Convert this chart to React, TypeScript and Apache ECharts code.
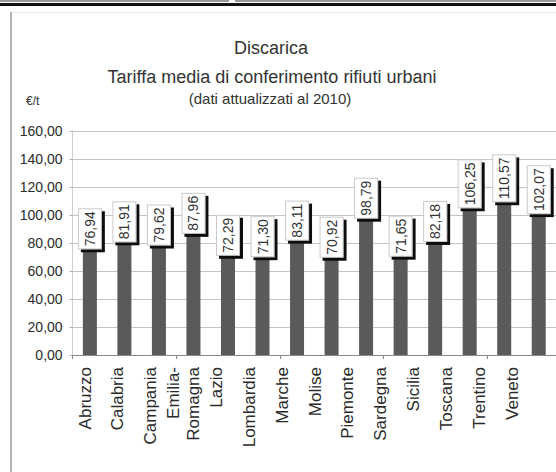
import React, { useEffect, useRef } from "react";
import * as echarts from "echarts";

const categories = [
  "Abruzzo", "Calabria", "Campania", "Emilia-\nRomagna", "Lazio", "Lombardia", "Marche",
  "Molise", "Piemonte", "Sardegna", "Sicilia", "Toscana", "Trentino", "Veneto",
];
const values = [76.94, 81.91, 79.62, 87.96, 72.29, 71.3, 83.11, 70.92, 98.79, 71.65, 82.18, 106.25, 110.57, 102.07];
const titleLines = ["Discarica", "Tariffa media di conferimento rifiuti urbani", "(dati attualizzati al 2010)"];
const unitLabel = "€/t";

const fmt = (v: number) => v.toFixed(2).replace(".", ",");
const FONT = "'Liberation Sans', Arial, sans-serif";

export default function App() {
  const ref = useRef<HTMLDivElement>(null);
  useEffect(() => {
    if (!ref.current) return;
    const chart = echarts.init(ref.current, undefined, { renderer: "svg" });
    chart.setOption({
      animation: false,
      backgroundColor: "#ffffff",
      textStyle: { fontFamily: FONT },
      grid: [
        { left: 72.6, top: 131, width: 488, height: 224 },
        { left: 68.6, top: 131, width: 460, height: 224 },
      ],
      xAxis: [
        {
          type: "category",
          data: categories,
          gridIndex: 0,
          axisLine: { show: true, lineStyle: { color: "#8a8a8a", width: 1 } },
          axisTick: { show: true, length: 4, lineStyle: { color: "#8a8a8a" } },
          axisLabel: { show: false },
        },
        {
          type: "category",
          data: categories,
          gridIndex: 1,
          axisLine: { show: false },
          axisTick: { show: false },
          axisLabel: {
            show: true,
            rotate: 90,
            interval: 0,
            margin: 12,
            fontSize: 17,
            lineHeight: 20,
            color: "#2a2a2a",
            fontFamily: FONT,
          },
        },
      ],
      yAxis: [
        {
          type: "value",
          gridIndex: 0,
          min: 0,
          max: 160,
          interval: 20,
          axisLine: { show: true, lineStyle: { color: "#cfcfcf", width: 1 } },
          axisTick: { show: true, length: 3, lineStyle: { color: "#aaa" } },
          splitLine: { show: true, lineStyle: { color: "#c4c4c4", width: 1 } },
          axisLabel: {
            formatter: (v: number) => fmt(v),
            fontSize: 14,
            color: "#2a2a2a",
            margin: 10,
            fontFamily: FONT,
          },
        },
        { type: "value", gridIndex: 1, min: 0, max: 1, show: false },
      ],
      series: [
        {
          type: "bar",
          xAxisIndex: 0,
          yAxisIndex: 0,
          data: values,
          barWidth: 14,
          itemStyle: { color: "#5a5a5a" },
          label: {
            show: true,
            position: "top",
            rotate: 90,
            align: "left",
            verticalAlign: "middle",
            distance: 1,
            offset: [-2, 0],
            formatter: (p: any) => fmt(p.value),
            fontSize: 14,
            lineHeight: 16,
            color: "#333",
            fontFamily: FONT,
            backgroundColor: "#ffffff",
            borderColor: "#c8c8c8",
            borderWidth: 1,
            padding: [3, 2],
            shadowColor: "#111",
            shadowOffsetX: -3,
            shadowOffsetY: 3,
            shadowBlur: 0,
          },
        },
      ],
      graphic: [
        { type: "line", shape: { x1: 0, y1: 1, x2: 229, y2: 1 }, style: { stroke: "#9a9a9a", lineWidth: 2 } },
        { type: "line", shape: { x1: 235, y1: 1, x2: 556, y2: 1 }, style: { stroke: "#9a9a9a", lineWidth: 2 } },
        { type: "line", shape: { x1: 0, y1: 4.5, x2: 556, y2: 4.5 }, style: { stroke: "#111", lineWidth: 3 } },
        { type: "line", shape: { x1: 11, y1: 12.5, x2: 556, y2: 12.5 }, style: { stroke: "#e6e6e6", lineWidth: 1 } },
        { type: "line", shape: { x1: 11, y1: 12, x2: 11, y2: 472 }, style: { stroke: "#9a9a9a", lineWidth: 1.5 } },
        {
          type: "text", x: 271, y: 48,
          style: { text: titleLines[0], font: `18px ${FONT}`, fill: "#333", textAlign: "center", textVerticalAlign: "middle" },
        },
        {
          type: "text", x: 272, y: 77,
          style: { text: titleLines[1], font: `18px ${FONT}`, fill: "#333", textAlign: "center", textVerticalAlign: "middle" },
        },
        {
          type: "text", x: 270, y: 98,
          style: { text: titleLines[2], font: `15px ${FONT}`, fill: "#333", textAlign: "center", textVerticalAlign: "middle" },
        },
        {
          type: "text", x: 26, y: 101,
          style: { text: unitLabel, font: `12px ${FONT}`, fill: "#333", textAlign: "left", textVerticalAlign: "middle" },
        },
      ],
    });
    return () => chart.dispose();
  }, []);
  return (
    <div style={{ position: "fixed", left: 0, top: 0, width: 556, height: 472, overflow: "hidden", background: "#fff" }}>
      <div ref={ref} style={{ width: 556, height: 472 }} />
    </div>
  );
}
